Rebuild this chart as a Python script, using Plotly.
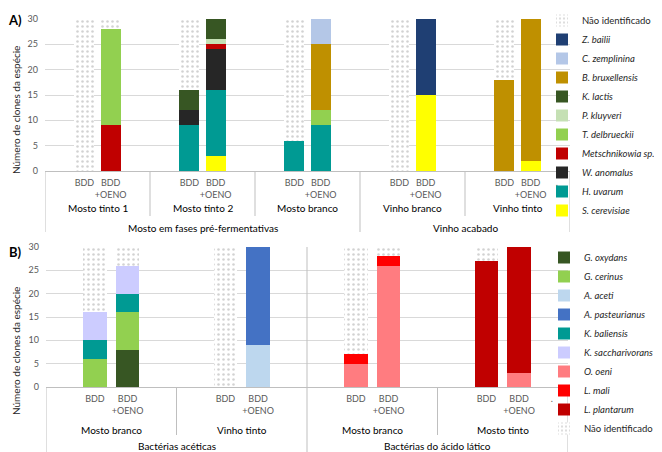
import plotly.graph_objects as go

# page body adds an 8px margin; figure is sized to fill the rest of the window
OFF = 8
W, H = 662 - OFF, 452 - OFF

# ---------------- Data: panel A (yeasts) ----------------
a_groups = ["Mosto tinto 1", "Mosto tinto 2", "Mosto branco", "Vinho branco", "Vinho tinto"]
a_super = ["Mosto em fases pré-fermentativas", "Vinho acabado"]
a_super_span = [(0, 2), (3, 4)]
bar_labels = ["BDD", "BDD<br>+OENO"]

# order of bars: per group BDD, BDD+OENO
a_s_cerevisiae = [0, 0, 0, 3, 0, 0, 0, 15, 0, 2]
a_h_uvarum = [0, 0, 9, 13, 6, 9, 0, 0, 0, 0]
a_w_anomalus = [0, 0, 3, 8, 0, 0, 0, 0, 0, 0]
a_metschnikowia = [0, 9, 0, 1, 0, 0, 0, 0, 0, 0]
a_t_delbrueckii = [0, 19, 0, 0, 0, 3, 0, 0, 0, 0]
a_p_kluyveri = [0, 0, 0, 1, 0, 0, 0, 0, 0, 0]
a_k_lactis = [0, 0, 4, 4, 0, 0, 0, 0, 0, 0]
a_b_bruxellensis = [0, 0, 0, 0, 0, 13, 0, 0, 18, 28]
a_c_zemplinina = [0, 0, 0, 0, 0, 5, 0, 0, 0, 0]
a_z_bailii = [0, 0, 0, 0, 0, 0, 0, 15, 0, 0]
a_nao_ident = [30, 2, 14, 0, 24, 0, 30, 0, 12, 0]

# ---------------- Data: panel B (bacteria) ----------------
b_groups = ["Mosto branco", "Vinho tinto", "Mosto branco", "Mosto tinto"]
b_super = ["Bactérias acéticas", "Bactérias do ácido lático"]
b_super_span = [(0, 1), (2, 3)]

b_g_oxydans = [0, 8, 0, 0, 0, 0, 0, 0]
b_g_cerinus = [6, 8, 0, 0, 0, 0, 0, 0]
b_a_aceti = [0, 0, 0, 9, 0, 0, 0, 0]
b_a_pasteurianus = [0, 0, 0, 21, 0, 0, 0, 0]
b_k_baliensis = [4, 4, 0, 0, 0, 0, 0, 0]
b_k_saccharivorans = [6, 6, 0, 0, 0, 0, 0, 0]
b_o_oeni = [0, 0, 0, 0, 5, 26, 0, 3]
b_l_mali = [0, 0, 0, 0, 2, 2, 0, 0]
b_l_plantarum = [0, 0, 0, 0, 0, 0, 27, 27]
b_nao_ident = [14, 4, 30, 0, 23, 2, 3, 0]

FONT = "Lato"
GRID = "#D9D9D9"
LINE = "#BFBFBF"
TICKC = "#595959"
TXT = "#262626"

def px_x(p):
    return (p - OFF) / W

def px_y(p):
    return 1 - (p - OFF) / H

# slot positions: 4 slots per group, bars in slots 1 and 2
def bar_x(n_groups):
    xs = []
    for g in range(n_groups):
        xs += [4 * g + 1, 4 * g + 2]
    return xs

xa = bar_x(len(a_groups))
xb = bar_x(len(b_groups))

dots = dict(shape=".", fgcolor="#A6A6A6", bgcolor="white", size=5, solidity=0.2)

fig = go.Figure()

a_series = [
    ("<i>S. cerevisiae</i>", a_s_cerevisiae, "#FFFF00"),
    ("<i>H. uvarum</i>", a_h_uvarum, "#009A93"),
    ("<i>W. anomalus</i>", a_w_anomalus, "#262626"),
    ("<i>Metschnikowia sp.</i>", a_metschnikowia, "#C00000"),
    ("<i>T. delbrueckii</i>", a_t_delbrueckii, "#92D050"),
    ("<i>P. kluyveri</i>", a_p_kluyveri, "#C5E0B4"),
    ("<i>K. lactis</i>", a_k_lactis, "#375623"),
    ("<i>B. bruxellensis</i>", a_b_bruxellensis, "#BF9000"),
    ("<i>C. zemplinina</i>", a_c_zemplinina, "#B4C7E7"),
    ("<i>Z. bailii</i>", a_z_bailii, "#1F3F73"),
]
for name, vals, col in a_series:
    fig.add_trace(go.Bar(x=xa, y=vals, name=name, width=0.76,
                         marker=dict(color=col, line=dict(width=0)),
                         xaxis="x", yaxis="y", legend="legend"))
fig.add_trace(go.Bar(x=xa, y=a_nao_ident, name="Não identificado", width=0.76,
                     marker=dict(color="white", pattern=dots, line=dict(width=0)),
                     xaxis="x", yaxis="y", legend="legend"))

b_series = [
    ("<i>G. oxydans</i>", b_g_oxydans, "#375623"),
    ("<i>G. cerinus</i>", b_g_cerinus, "#92D050"),
    ("<i>A. aceti</i>", b_a_aceti, "#BDD7EE"),
    ("<i>A. pasteurianus</i>", b_a_pasteurianus, "#4472C4"),
    ("<i>K. baliensis</i>", b_k_baliensis, "#009A93"),
    ("<i>K. saccharivorans</i>", b_k_saccharivorans, "#CCCCFF"),
    ("<i>O. oeni</i>", b_o_oeni, "#FF7C80"),
    ("<i>L. mali</i>", b_l_mali, "#FF0000"),
    ("<i>L. plantarum</i>", b_l_plantarum, "#C00000"),
]
for name, vals, col in b_series:
    fig.add_trace(go.Bar(x=xb, y=vals, name=name, width=0.73,
                         marker=dict(color=col, line=dict(width=0)),
                         xaxis="x2", yaxis="y2", legend="legend2"))
fig.add_trace(go.Bar(x=xb, y=b_nao_ident, name="Não identificado", width=0.73,
                     marker=dict(color="white", pattern=dots, line=dict(width=0)),
                     xaxis="x2", yaxis="y2", legend="legend2"))

# tick labels
a_tickvals = xa + [4 * len(a_groups) - 1]
a_ticktext = bar_labels * len(a_groups) + ["."]
b_tickvals = xb + [4 * len(b_groups) - 1]
b_ticktext = bar_labels * len(b_groups) + ["."]

xaxis_common = dict(showgrid=False, zeroline=False, showline=True, linecolor=LINE,
                    linewidth=1, ticks="", tickfont=dict(size=9, color=TICKC, family=FONT),
                    tickangle=0, ticklabelstandoff=3, fixedrange=True, automargin=False)
yaxis_common = dict(range=[0, 30], dtick=5, showgrid=True, gridcolor=GRID, gridwidth=1,
                    zeroline=False, showline=False, ticks="",
                    tickfont=dict(size=9, color=TICKC, family=FONT), ticklabelstandoff=6,
                    fixedrange=True, automargin=False)

fig.update_layout(
    width=W, height=H, autosize=False,
    margin=dict(l=0, r=0, t=0, b=0, autoexpand=False),
    paper_bgcolor="white", plot_bgcolor="white",
    barmode="stack", bargap=0,
    font=dict(family=FONT, color=TXT),
    xaxis=dict(domain=[px_x(45), px_x(570)], range=[-0.5, 4 * len(a_groups) - 0.5],
               tickvals=a_tickvals, ticktext=a_ticktext, anchor="y", **xaxis_common),
    yaxis=dict(domain=[px_y(171), px_y(19)], anchor="x", **yaxis_common),
    xaxis2=dict(domain=[px_x(46), px_x(568)], range=[-0.5, 4 * len(b_groups) - 0.5],
                tickvals=b_tickvals, ticktext=b_ticktext, anchor="y2", **xaxis_common),
    yaxis2=dict(domain=[px_y(387), px_y(247)], anchor="x2", **yaxis_common),
    legend=dict(x=px_x(542), y=px_y(6), xanchor="left", yanchor="top",
                traceorder="reversed", bgcolor="rgba(0,0,0,0)",
                font=dict(size=9.5, family=FONT, color=TXT)),
    legend2=dict(x=px_x(544), y=px_y(243), xanchor="left", yanchor="top",
                 traceorder="normal", bgcolor="rgba(0,0,0,0)",
                 font=dict(size=9.5, family=FONT, color=TXT)),
    showlegend=True,
)

shapes = []
annotations = []

def vline(xref, xv, y0px, y1px):
    shapes.append(dict(type="line", xref=xref, yref="paper", x0=xv, x1=xv,
                       y0=px_y(y0px), y1=px_y(y1px), line=dict(color=LINE, width=1)))

def label(xref, xv, ypx, text, size):
    annotations.append(dict(xref=xref, yref="paper", x=xv, y=px_y(ypx), text=text,
                            showarrow=False, xanchor="center", yanchor="middle",
                            font=dict(size=size, color="#000000", family=FONT)))

# Panel A hierarchy
outer_a = set()
for s, (g0, g1) in zip(a_super, a_super_span):
    outer_a.add(4 * g0 - 0.5)
    outer_a.add(4 * (g1 + 1) - 0.5)
    label("x", (4 * g0 - 0.5 + 4 * (g1 + 1) - 0.5) / 2, 228, s, 10)
for g, name in enumerate(a_groups):
    label("x", 4 * g + 1.5, 208, name, 10)
for g in range(len(a_groups) + 1):
    xv = 4 * g - 0.5
    vline("x", xv, 171, 232 if xv in outer_a else 216)

# Panel B hierarchy
outer_b = set()
for s, (g0, g1) in zip(b_super, b_super_span):
    outer_b.add(4 * g0 - 0.5)
    outer_b.add(4 * (g1 + 1) - 0.5)
    label("x2", (4 * g0 - 0.5 + 4 * (g1 + 1) - 0.5) / 2, 445.5, s, 10)
for g, name in enumerate(b_groups):
    label("x2", 4 * g + 1.5, 430, name, 10)
for g in range(len(b_groups) + 1):
    xv = 4 * g - 0.5
    if xv in outer_b and 0 < g < len(b_groups):
        vline("x2", xv, 247, 452)
    else:
        vline("x2", xv, 387, 452 if xv in outer_b else 435)

# axis titles and panel letters
for ypx in (110, 351):
    annotations.append(dict(xref="paper", yref="paper", x=px_x(16), y=px_y(ypx),
                            text="Número de clones da espécie", textangle=-90,
                            showarrow=False, xanchor="center", yanchor="middle",
                            font=dict(size=10, color=TXT, family=FONT)))
for txt, ypx in (("A)", 20), ("B)", 252)):
    annotations.append(dict(xref="paper", yref="paper", x=px_x(15), y=px_y(ypx),
                            text="<b>" + txt + "</b>", showarrow=False,
                            xanchor="center", yanchor="middle",
                            font=dict(size=13, color="#000000", family=FONT)))

fig.update_layout(shapes=shapes, annotations=annotations)
fig.write_html("out.html")
